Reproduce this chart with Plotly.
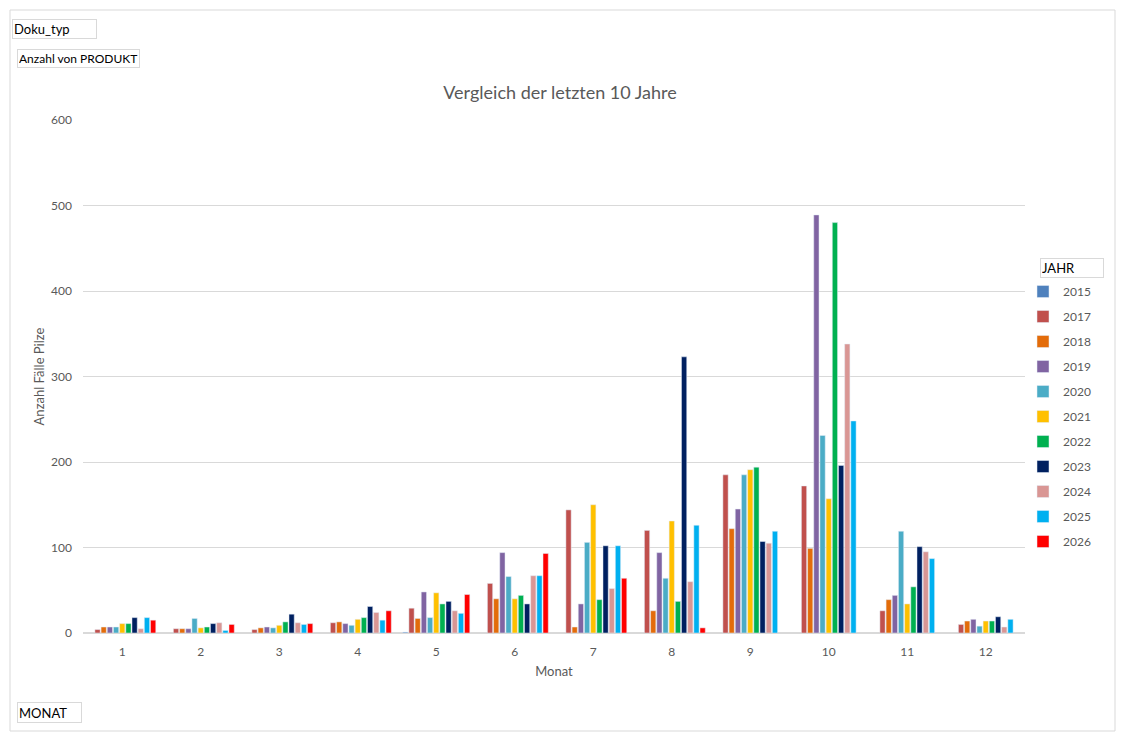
import plotly.graph_objects as go

monate = ["1", "2", "3", "4", "5", "6", "7", "8", "9", "10", "11", "12"]
jahre = ["2015", "2017", "2018", "2019", "2020", "2021", "2022", "2023", "2024", "2025", "2026"]

werte_2015 = [None, None, None, None, 1, None, None, None, None, None, None, None]
werte_2017 = [4, 5, 4, 12, 29, 58, 144, 120, 185, 172, 26, 10]
werte_2018 = [7, 5, 6, 13, 17, 40, 7, 26, 122, 99, 39, 14]
werte_2019 = [7, 5, 7, 11, 48, 94, 34, 94, 145, 489, 44, 16]
werte_2020 = [7, 17, 6, 9, 18, 66, 106, 64, 185, 231, 119, 8]
werte_2021 = [11, 6, 9, 16, 47, 40, 150, 131, 191, 157, 34, 14]
werte_2022 = [11, 7, 13, 18, 34, 44, 39, 37, 194, 480, 54, 14]
werte_2023 = [18, 11, 22, 31, 37, 34, 102, 323, 107, 196, 101, 19]
werte_2024 = [5, 12, 12, 24, 26, 67, 52, 60, 105, 338, 95, 7]
werte_2025 = [18, 3, 10, 15, 23, 67, 102, 126, 119, 248, 87, 16]
werte_2026 = [15, 10, 11, 26, 45, 93, 64, 6, None, None, None, None]

alle_werte = [werte_2015, werte_2017, werte_2018, werte_2019, werte_2020, werte_2021,
              werte_2022, werte_2023, werte_2024, werte_2025, werte_2026]

farben = ["#4F81BD", "#C0504D", "#E36C0A", "#8064A2", "#4BACC6", "#FFC000",
          "#00B050", "#002060", "#D99694", "#00B0F0", "#FF0000"]

# Seitenpixel -> Figurpixel (Body-Rand des Browsers: 8px)
RAND = 8
BREITE, HOEHE = 1128 - 2 * RAND, 740 - 2 * RAND
L, R, T, B = 83, 1025, 120, 633   # Zeichenflaeche in Seitenpixeln
GRAU = "#595959"
LINIE = "#D9D9D9"
SCHRIFT = "Lato"


def fx(px):
    return (px - L) / (R - L)


def fy(py):
    return (B - py) / (B - T)


# Feldschaltflaechen wie in Excel
def feld(text, x0, y0, x1, y1, size=13):
    return dict(text=text, xref="paper", yref="paper", x=fx(x0), y=fy(y0),
                xanchor="left", yanchor="top", showarrow=False, align="left",
                width=x1 - x0 - 4, height=y1 - y0 - 4, borderpad=1,
                bordercolor=LINIE, borderwidth=1, bgcolor="white",
                font=dict(family=SCHRIFT, size=size, color="black"))


fig = go.Figure()
for jahr, werte, farbe in zip(jahre, alle_werte, farben):
    fig.add_trace(go.Bar(x=monate, y=werte, name=jahr, legendgroup=jahr,
                         marker=dict(color=farbe)))

fig.update_layout(
    width=BREITE, height=HOEHE,
    margin=dict(l=L - RAND, r=1128 - R - RAND, t=T - RAND, b=740 - B - RAND),
    paper_bgcolor="white", plot_bgcolor="white",
    font=dict(family=SCHRIFT, color=GRAU),
    barmode="group", bargap=0.134, bargroupgap=0.15,
    title=dict(text="Vergleich der letzten 10 Jahre", x=fx(560), xref="paper",
               xanchor="center", y=1 - (93 - RAND) / HOEHE, yref="container",
               yanchor="middle", font=dict(size=18, color=GRAU)),
    xaxis=dict(type="category", showgrid=False, showline=True, linecolor=LINIE,
               ticks="", ticklabelstandoff=8, tickfont=dict(size=12, color=GRAU),
               title=dict(text="Monat", standoff=8, font=dict(size=13, color=GRAU))),
    yaxis=dict(range=[0, 600], dtick=100, showgrid=True, gridcolor=LINIE,
               zeroline=True, zerolinecolor=LINIE, showline=False, ticks="",
               ticklabelstandoff=10, tickfont=dict(size=12, color=GRAU),
               title=dict(text="Anzahl Fälle Pilze", standoff=3,
                          font=dict(size=13, color=GRAU))),
    legend=dict(x=fx(1023), y=fy(277), xanchor="left", yanchor="top",
                font=dict(size=12, color=GRAU), tracegroupgap=6, itemwidth=30,
                bgcolor="rgba(0,0,0,0)"),
    shapes=[dict(type="rect", xref="paper", yref="paper",
                 x0=fx(10), x1=fx(1115), y0=fy(10), y1=fy(731),
                 line=dict(color=LINIE, width=1), layer="below")],
    annotations=[
        feld("Doku_typ", 12, 19, 97, 39, 13),
        feld("Anzahl von PRODUKT", 17, 49, 140, 68, 12),
        feld("MONAT", 17, 702, 82, 723, 13),
        feld("JAHR", 1040, 258, 1104, 278, 13),
    ],
)

fig.write_html("out.html")
